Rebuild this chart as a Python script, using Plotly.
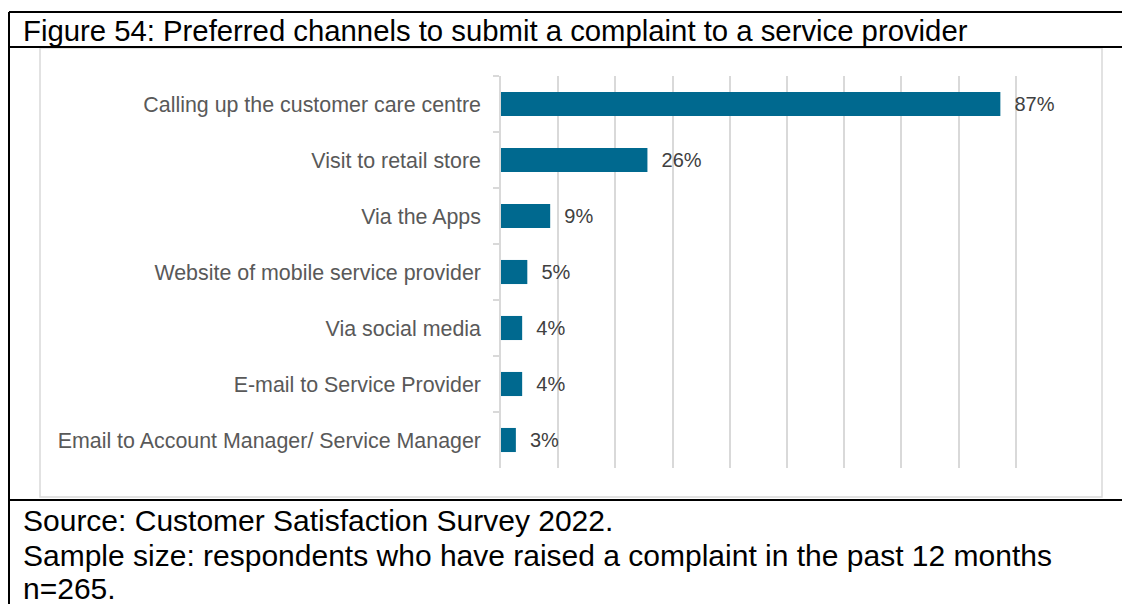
import plotly.graph_objects as go

categories = [
    "Calling up the customer care centre",
    "Visit to retail store",
    "Via the Apps",
    "Website of mobile service provider",
    "Via social media",
    "E-mail to Service Provider",
    "Email to Account Manager/ Service Manager",
]
values = [87.3, 25.6, 8.6, 4.6, 3.7, 3.7, 2.6]
labels = [f"\u00a0\u00a0{v:.0f}%" for v in values]

title_text = "Figure 54: Preferred channels to submit a complaint to a service provider"
source_lines = [
    "Source: Customer Satisfaction Survey 2022.",
    "Sample size: respondents who have raised a complaint in the past 12 months",
    "n=265.",
]

W, H = 1122, 604
PL, PR, PT, PB = 501, 1073, 76, 468  # plot area in pixels


def px(x):
    return (x - PL) / (PR - PL)


def py(y):
    return (PB - y) / (PB - PT)


FONT = "Liberation Sans, Arial, sans-serif"

fig = go.Figure(
    go.Bar(
        x=values,
        y=categories,
        orientation="h",
        marker=dict(color="#00698f", line=dict(width=0)),
        text=labels,
        textposition="outside",
        textfont=dict(family=FONT, size=20, color="#404040"),
        cliponaxis=False,
        width=0.43,
    )
)

shapes = []
# light grey chart frame
shapes.append(dict(type="rect", xref="paper", yref="paper",
                   x0=px(40), x1=px(1102), y0=py(48), y1=py(497),
                   line=dict(color="#d9d9d9", width=1.5), layer="below"))
# black table lines
for y in (12, 47, 500):
    shapes.append(dict(type="line", xref="paper", yref="paper",
                       x0=px(9), x1=px(1125), y0=py(y), y1=py(y),
                       line=dict(color="black", width=2)))
shapes.append(dict(type="line", xref="paper", yref="paper",
                   x0=px(9), x1=px(9), y0=py(12), y1=py(610),
                   line=dict(color="black", width=2)))

annotations = [
    dict(text=title_text, xref="paper", yref="paper", x=px(21), y=py(30),
         xanchor="left", yanchor="middle", showarrow=False,
         font=dict(family=FONT, size=29.3, color="black")),
]
source_y = [520, 555, 588]
for line, yy in zip(source_lines, source_y):
    annotations.append(dict(text=line, xref="paper", yref="paper", x=px(21),
                            y=py(yy), xanchor="left", yanchor="middle",
                            showarrow=False,
                            font=dict(family=FONT, size=30, color="black")))

fig.update_layout(
    width=W, height=H,
    margin=dict(l=PL, r=W - PR, t=PT, b=H - PB, pad=0),
    paper_bgcolor="white", plot_bgcolor="white",
    showlegend=False,
    bargap=0.57,
    xaxis=dict(range=[0, 100], dtick=10, showticklabels=False,
               showgrid=True, gridcolor="#d9d9d9", gridwidth=1.5,
               zeroline=False, showline=False, fixedrange=True),
    yaxis=dict(autorange="reversed", showline=True, linecolor="#d9d9d9",
               linewidth=1.5, ticks="outside", tickson="boundaries",
               ticklen=6, tickcolor="#d9d9d9", tickwidth=1.5,
               ticklabelstandoff=14,
               tickfont=dict(family=FONT, size=21.4, color="#595959"),
               showgrid=False, fixedrange=True),
    shapes=shapes,
    annotations=annotations,
)

fig.write_html("out.html", config={"displayModeBar": False},
               post_script="document.body.style.margin='0';document.body.style.overflow='hidden';")
